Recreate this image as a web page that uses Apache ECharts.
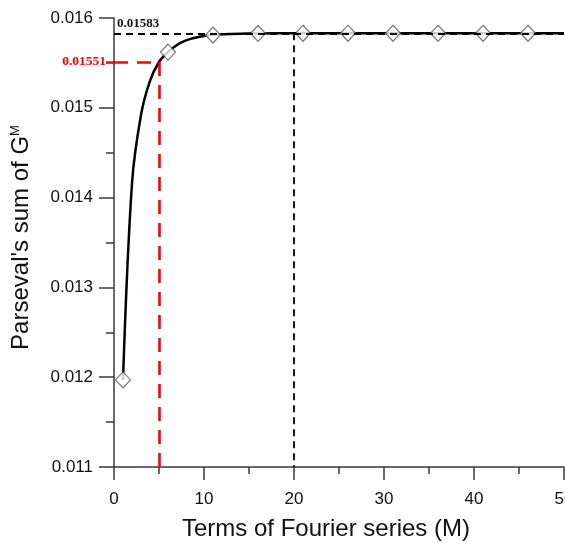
<!DOCTYPE html>
<html>
<head>
<meta charset="utf-8">
<title>Parseval's sum</title>
<script src="https://cdn.jsdelivr.net/npm/echarts@6/dist/echarts.min.js"></script>
<style>
html,body{margin:0;padding:0;background:#fff;}
#main{width:565px;height:545px;}
</style>
</head>
<body>
<div id="main"></div>
<script>
// terms M and the Parseval sum
var terms = [1, 2, 3, 4, 5, 6, 7, 8, 9, 10, 11, 12, 13, 14, 16, 18, 20, 25, 30, 35, 40, 45, 50];
var sums = [0.01197, 0.01416, 0.01492, 0.01530, 0.01551, 0.01562, 0.01570, 0.01575, 0.01578, 0.01580,
	0.01581, 0.015818, 0.015822, 0.015825, 0.015828, 0.01583, 0.01583, 0.01583, 0.01583, 0.01583,
	0.01583, 0.01583, 0.01583];
// diamond markers every 5 terms
var markTerms = [1, 6, 11, 16, 21, 26, 31, 36, 41, 46];
var markSums = [0.01197, 0.01562, 0.01581, 0.015828, 0.01583, 0.01583, 0.01583, 0.01583, 0.01583, 0.01583];
var xTicks = [0, 10, 20, 30, 40, 50];
var yTicks = [0.011, 0.012, 0.013, 0.014, 0.015, 0.016];
var limitVal = 0.01583, limitM = 20;
var redVal = 0.01551, redM = 5;

var lineData = [];
for (var i = 0; i < terms.length; i++) {
	lineData.push([terms[i], sums[i]]);
}
var markData = [];
for (var j = 0; j < markTerms.length; j++) {
	markData.push([markTerms[j], markSums[j]]);
}

var chart = echarts.init(document.getElementById('main'));
var axisColor = '#3a3a3a';
var font = 'Liberation Sans, Arial, sans-serif';
var serif = 'Liberation Serif, Times New Roman, serif';

var option = {
	animation: false,
	grid: { left: 114, right: 1, top: 18, bottom: 78, outerBoundsMode: 'none', containLabel: false },
	xAxis: {
		type: 'value',
		min: xTicks[0],
		max: xTicks[xTicks.length - 1],
		interval: 10,
		axisLine: { show: true, lineStyle: { color: axisColor, width: 1.5 } },
		axisTick: { show: true, length: 13, lineStyle: { color: axisColor, width: 1.5 } },
		minorTick: { show: true, splitNumber: 2, length: 7, lineStyle: { color: axisColor, width: 1.5 } },
		splitLine: { show: false },
		axisLabel: { color: '#111', fontSize: 17, fontFamily: font, margin: 24 },
		name: 'Terms of Fourier series (M)',
		nameLocation: 'middle',
		nameGap: 50,
		nameTextStyle: { color: '#111', fontSize: 24, fontFamily: font, padding: [0, 26, 0, 0] }
	},
	yAxis: {
		type: 'value',
		min: yTicks[0],
		max: yTicks[yTicks.length - 1],
		interval: 0.001,
		axisLine: { show: true, lineStyle: { color: axisColor, width: 1.5 } },
		axisTick: { show: true, length: 15, lineStyle: { color: axisColor, width: 1.5 } },
		minorTick: { show: true, splitNumber: 2, length: 8, lineStyle: { color: axisColor, width: 1.5 } },
		splitLine: { show: false },
		axisLabel: {
			color: '#111', fontSize: 17, fontFamily: font, margin: 21,
			formatter: function (v) { return v.toFixed(3); }
		},
		name: "Parseval's sum of G{sup|M}",
		nameLocation: 'middle',
		nameGap: 81,
		nameTextStyle: {
			color: '#111', fontSize: 24, fontFamily: font, padding: [0, 0, 0, 10],
			rich: { sup: { fontSize: 13, fontFamily: font, color: '#111', verticalAlign: 'top', padding: [0, 0, 10, 0] } }
		}
	},
	series: [
		{
			type: 'line',
			data: lineData,
			smooth: 0.35,
			showSymbol: false,
			lineStyle: { color: '#000', width: 2.5 },
			z: 3,
			markLine: {
				symbol: 'none',
				silent: true,
				animation: false,
				data: [
					[
						{ coord: [0, limitVal], lineStyle: { color: '#000', type: [7, 5], width: 1.8 },
							label: { show: true, position: 'insideStartTop', formatter: '0.01583', color: '#111',
								fontFamily: serif, fontWeight: 'bold', fontSize: 13, distance: [3, 3] } },
						{ coord: [50, limitVal] }
					],
					[
						{ coord: [limitM, limitVal], lineStyle: { color: '#000', type: [7, 5], width: 1.8 }, label: { show: false } },
						{ coord: [limitM, yTicks[0]] }
					],
					[
						{ coord: [0, redVal], lineStyle: { color: '#f00', type: [14, 9], width: 2.6 },
							label: { show: true, position: 'start', formatter: '0.01551', color: '#f00',
								fontFamily: serif, fontWeight: 'bold', fontSize: 13.5, distance: 8 } },
						{ coord: [redM, redVal] }
					],
					[
						{ coord: [redM, redVal], lineStyle: { color: '#f00', type: [14, 9], width: 2.6 }, label: { show: false } },
						{ coord: [redM, yTicks[0]] }
					]
				]
			}
		},
		{
			type: 'scatter',
			data: markData,
			symbol: 'diamond',
			symbolSize: [15, 16],
			itemStyle: { color: '#fff', borderColor: '#555', borderWidth: 1.2 },
			z: 4
		}
	]
};
chart.setOption(option);

// short red tick on the y axis at the marked value
var p = chart.convertToPixel({ gridIndex: 0 }, [0, redVal]);
chart.setOption({
	graphic: [{
		type: 'line',
		shape: { x1: p[0] - 8, y1: p[1], x2: p[0], y2: p[1] },
		style: { stroke: '#f00', lineWidth: 1.5 },
		z: 10
	}]
});
</script>
</body>
</html>
